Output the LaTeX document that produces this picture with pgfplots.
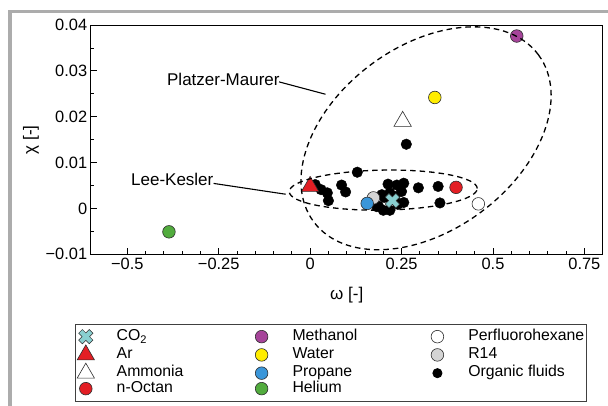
\documentclass[border=0pt]{standalone}
\usepackage{pgfplots}
\pgfplotsset{compat=1.18}
\usepackage{fontspec}
\setmainfont{Liberation Sans}

\definecolor{cotwo}{RGB}{137,207,208}
\definecolor{fluidred}{RGB}{227,30,36}
\definecolor{methanol}{RGB}{166,68,154}
\definecolor{water}{RGB}{255,237,0}
\definecolor{propane}{RGB}{58,150,217}
\definecolor{helium}{RGB}{82,172,62}
\definecolor{rfourteen}{RGB}{212,212,212}
\definecolor{outline}{RGB}{45,45,45}
\definecolor{pageframe}{RGB}{172,172,172}

% thick cross with an outline, used for CO2
\pgfdeclareplotmark{fatx}{%
  \pgftransformrotate{45}%
  \pgfpathmoveto{\pgfqpoint{0.35\pgfplotmarksize}{\pgfplotmarksize}}%
  \pgfpathlineto{\pgfqpoint{0.35\pgfplotmarksize}{0.35\pgfplotmarksize}}%
  \pgfpathlineto{\pgfqpoint{\pgfplotmarksize}{0.35\pgfplotmarksize}}%
  \pgfpathlineto{\pgfqpoint{\pgfplotmarksize}{-0.35\pgfplotmarksize}}%
  \pgfpathlineto{\pgfqpoint{0.35\pgfplotmarksize}{-0.35\pgfplotmarksize}}%
  \pgfpathlineto{\pgfqpoint{0.35\pgfplotmarksize}{-\pgfplotmarksize}}%
  \pgfpathlineto{\pgfqpoint{-0.35\pgfplotmarksize}{-\pgfplotmarksize}}%
  \pgfpathlineto{\pgfqpoint{-0.35\pgfplotmarksize}{-0.35\pgfplotmarksize}}%
  \pgfpathlineto{\pgfqpoint{-\pgfplotmarksize}{-0.35\pgfplotmarksize}}%
  \pgfpathlineto{\pgfqpoint{-\pgfplotmarksize}{0.35\pgfplotmarksize}}%
  \pgfpathlineto{\pgfqpoint{-0.35\pgfplotmarksize}{0.35\pgfplotmarksize}}%
  \pgfpathlineto{\pgfqpoint{-0.35\pgfplotmarksize}{\pgfplotmarksize}}%
  \pgfpathclose
  \pgfusepathqfillstroke
}

% legend image: one marker centred in a fixed 17pt wide cell
\pgfplotsset{
  legmark/.style={legend image code/.code={%
      \path (0pt,-6pt) (17pt,6pt);
      \draw[#1] plot[only marks] coordinates {(8.5pt,0pt)};}},
}

% legend text cells of fixed width (first two columns wider, carrying the gap)
\newcommand{\entry}[1]{\makebox[136pt][l]{#1}}
\newcommand{\lastentry}[1]{\makebox[116pt][l]{#1}}

\begin{document}
\begin{tikzpicture}
\useasboundingbox (-90.7pt,-150.7pt) rectangle (517.3pt,254.3pt);
\begin{axis}[
  at={(0pt,0pt)}, anchor=south west,
  scale only axis, width=512pt, height=229.3pt,
  xmin=-0.6, xmax=0.8, ymin=-0.01, ymax=0.04,
  scaled x ticks=false, scaled y ticks=false,
  axis line style={line width=0.9pt, black},
  xtick={-0.5,-0.25,0,0.25,0.5,0.75},
  xticklabels={−0.5,−0.25,0,0.25,0.5,0.75},
  ytick={-0.01,0,0.01,0.02,0.03,0.04},
  yticklabels={−0.01,0,0.01,0.02,0.03,0.04},
  minor x tick num=4, minor y tick num=1,
  tick pos=left, tick align=inside,
  major tick length=6pt, minor tick length=3.5pt,
  every tick/.style={black, line width=0.8pt},
  ticklabel style={font=\fontsize{16.4}{18}\selectfont},
  xlabel={ω [-]}, ylabel={χ [-]},
  label style={font=\fontsize{17}{20}\selectfont},
  xlabel style={at={(axis description cs:0.5,-0.177)}, anchor=center},
  ylabel style={at={(axis description cs:-0.1166,0.5)}, anchor=center},
  legend columns=3,
  legend cell align=left,
  legend style={
    at={(-0.0316,-0.304)}, anchor=north west,
    draw=black!75, line width=0.8pt,
    inner xsep=2pt, inner ysep=5pt,
    font=\fontsize{15.8}{17}\selectfont,
    nodes={inner sep=0pt, text height=11pt, text depth=3.5pt},
    row sep=1pt,
    /tikz/every odd column/.append style={column sep=22pt},
  },
]

% organic fluids
\addplot[only marks, mark=*, mark size=5.3pt,
  mark options={fill=black, draw=black}, forget plot] coordinates {
  (0.129,0.0079) (0.014,0.0052) (0.030,0.0041) (0.047,0.0034)
  (0.050,0.0017) (0.086,0.0051) (0.097,0.0036) (0.213,0.0053)
  (0.237,0.0051) (0.256,0.0055) (0.250,0.0037) (0.296,0.0045)
  (0.350,0.0048) (0.355,0.0012) (0.182,0.0004) (0.200,-0.0004)
  (0.218,-0.0004) (0.240,0.0009) (0.256,0.0013) (0.196,0.0030)
  (0.218,0.0034) (0.203,0.0024) (0.187,0.0005) (0.263,0.0140)
  (0.232,0.0026)
};

% individual substances
\addplot[only marks, mark=*, mark size=6.3pt,
  mark options={fill=rfourteen, draw=outline, line width=0.6pt}, forget plot]
  coordinates {(0.173,0.0023)};
\addplot[only marks, mark=*, mark size=6.3pt,
  mark options={fill=propane, draw=outline, line width=0.6pt}, forget plot]
  coordinates {(0.156,0.0011)};
\addplot[only marks, mark=fatx, mark size=7.5pt,
  mark options={fill=cotwo, draw=outline, line width=0.5pt}, forget plot]
  coordinates {(0.225,0.0017)};
\addplot[only marks, mark=triangle*, mark size=10pt,
  mark options={fill=fluidred, draw=outline, line width=0.6pt}, forget plot]
  coordinates {(0.000,0.0048)};
\addplot[only marks, mark=*, mark size=6.3pt,
  mark options={fill=fluidred, draw=outline, line width=0.6pt}, forget plot]
  coordinates {(0.399,0.0046)};
\addplot[only marks, mark=*, mark size=6.3pt,
  mark options={fill=white, draw=outline, line width=0.6pt}, forget plot]
  coordinates {(0.460,0.0010)};
\addplot[only marks, mark=triangle*, mark size=10pt,
  mark options={fill=white, draw=outline, line width=0.6pt}, forget plot]
  coordinates {(0.253,0.0190)};
\addplot[only marks, mark=*, mark size=6.3pt,
  mark options={fill=water, draw=outline, line width=0.6pt}, forget plot]
  coordinates {(0.341,0.0242)};
\addplot[only marks, mark=*, mark size=6.3pt,
  mark options={fill=methanol, draw=outline, line width=0.6pt}, forget plot]
  coordinates {(0.565,0.0376)};
\addplot[only marks, mark=*, mark size=6.3pt,
  mark options={fill=helium, draw=outline, line width=0.6pt}, forget plot]
  coordinates {(-0.386,-0.0051)};

% ellipse centres
\coordinate (pm) at (axis cs:0.317,0.0153);
\coordinate (lk) at (axis cs:0.200,0.0040);

% annotations
\node[anchor=east, inner sep=0pt, font=\fontsize{17}{20}\selectfont]
  at (axis cs:-0.083,0.0282) {Platzer-Maurer};
\draw[line width=1.1pt] (axis cs:-0.085,0.0276) -- (axis cs:0.042,0.0249);
\node[anchor=east, inner sep=0pt, font=\fontsize{17}{20}\selectfont]
  at (axis cs:-0.264,0.0063) {Lee-Kesler};
\draw[line width=1.1pt] (axis cs:-0.264,0.00546) -- (axis cs:-0.0668,0.0031);

% legend, filled row by row
\addlegendimage{legmark={mark=fatx, mark size=7.5pt, mark options={fill=cotwo, draw=outline, line width=0.5pt}}}
\addlegendentry{\entry{CO\textsubscript{2}}}
\addlegendimage{legmark={mark=*, mark size=6.3pt, mark options={fill=methanol, draw=outline, line width=0.6pt}}}
\addlegendentry{\entry{Methanol}}
\addlegendimage{legmark={mark=*, mark size=6.3pt, mark options={fill=white, draw=outline, line width=0.6pt}}}
\addlegendentry{\lastentry{Perfluorohexane}}
\addlegendimage{legmark={mark=triangle*, mark size=10pt, mark options={fill=fluidred, draw=outline, line width=0.6pt}}}
\addlegendentry{\entry{Ar}}
\addlegendimage{legmark={mark=*, mark size=6.3pt, mark options={fill=water, draw=outline, line width=0.6pt}}}
\addlegendentry{\entry{Water}}
\addlegendimage{legmark={mark=*, mark size=6.3pt, mark options={fill=rfourteen, draw=outline, line width=0.6pt}}}
\addlegendentry{\lastentry{R14}}
\addlegendimage{legmark={mark=triangle*, mark size=10pt, mark options={fill=white, draw=outline, line width=0.6pt}}}
\addlegendentry{\entry{Ammonia}}
\addlegendimage{legmark={mark=*, mark size=6.3pt, mark options={fill=propane, draw=outline, line width=0.6pt}}}
\addlegendentry{\entry{Propane}}
\addlegendimage{legmark={mark=*, mark size=4.6pt, mark options={fill=black, draw=black}}}
\addlegendentry{\lastentry{Organic fluids}}
\addlegendimage{legmark={mark=*, mark size=6.3pt, mark options={fill=fluidred, draw=outline, line width=0.6pt}}}
\addlegendentry{\entry{n-Octan}}
\addlegendimage{legmark={mark=*, mark size=6.3pt, mark options={fill=helium, draw=outline, line width=0.6pt}}}
\addlegendentry{\entry{Helium}}
\end{axis}

% model validity regions
\draw[line width=1.3pt, dash pattern=on 5.5pt off 4pt, rotate around={36.6:(pm)}]
  (pm) ellipse [x radius=140pt, y radius=92pt];
\draw[line width=1.3pt, dash pattern=on 5.5pt off 4pt, rotate around={1:(lk)}]
  (lk) ellipse [x radius=94pt, y radius=20pt];

% page frame
\draw[pageframe, line width=3.5pt] (-80.7pt,-170pt) |- (540pt,242.6pt);
\end{tikzpicture}
\end{document}
